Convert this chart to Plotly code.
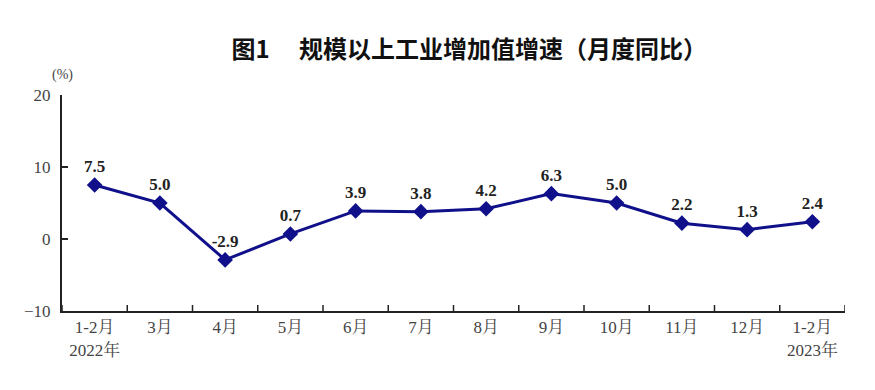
import plotly.graph_objects as go

categories = ["1-2月<br>2022年", "3月", "4月", "5月", "6月", "7月", "8月", "9月", "10月", "11月", "12月", "1-2月<br>2023年"]
values = [7.5, 5.0, -2.9, 0.7, 3.9, 3.8, 4.2, 6.3, 5.0, 2.2, 1.3, 2.4]
labels = ["7.5", "5.0", "-2.9", "0.7", "3.9", "3.8", "4.2", "6.3", "5.0", "2.2", "1.3", "2.4"]
y_ticks = [-10, 0, 10, 20]
y_tick_text = ["−10", "0", "10", "20"]

serif = "Liberation Serif, Times New Roman, Noto Serif CJK SC, Noto Sans CJK SC, serif"
line_color = "#10108a"

fig = go.Figure()
fig.add_trace(go.Scatter(
    x=list(range(len(categories))), y=values,
    mode="lines+markers+text",
    line=dict(color=line_color, width=3),
    marker=dict(symbol="diamond", size=12, color=line_color),
    text=["<b>%s</b>" % t for t in labels],
    textposition="top center",
    textfont=dict(family=serif, size=17, color="#222"),
    cliponaxis=False,
    hoverinfo="skip",
))

fig.update_layout(
    width=867, height=382,
    margin=dict(l=54, r=30, t=87, b=79),
    paper_bgcolor="white", plot_bgcolor="white",
    showlegend=False,
    title=dict(text="<b>图1　 规模以上工业增加值增速（月度同比）</b>",
               x=0.532, xanchor="center", y=0.89, yanchor="middle",
               font=dict(family="Noto Sans CJK SC", size=24, color="#111")),
    xaxis=dict(
        range=[-0.5, len(categories) - 0.5],
        tickmode="array", tickvals=list(range(len(categories))), ticktext=categories,
        showline=True, linecolor="#222", linewidth=2,
        showgrid=False, zeroline=False,
        ticks="",
        tickfont=dict(family=serif, size=17, color="#444"),
    ),
    yaxis=dict(
        range=[-10, 20], tickmode="array", tickvals=y_ticks, ticktext=y_tick_text,
        showline=True, linecolor="#222", linewidth=2,
        showgrid=False, zeroline=False,
        ticks="inside", ticklen=6, tickwidth=1.5, tickcolor="#222",
        tickfont=dict(family=serif, size=17, color="#444"),
        ticklabelstandoff=6,
    ),
    annotations=[dict(text="(%)", xref="paper", yref="paper", x=0.0, y=1.0,
                      xanchor="center", yanchor="bottom", yshift=10, showarrow=False,
                      font=dict(family=serif, size=14, color="#444"))],
)

# boundary ticks on x-axis
for i in range(len(categories) + 1):
    fig.add_shape(type="line", xref="x", yref="paper", x0=i - 0.5, x1=i - 0.5,
                  y0=0, y1=0.028, line=dict(color="#222", width=1.5))

fig.write_html("out.html")
